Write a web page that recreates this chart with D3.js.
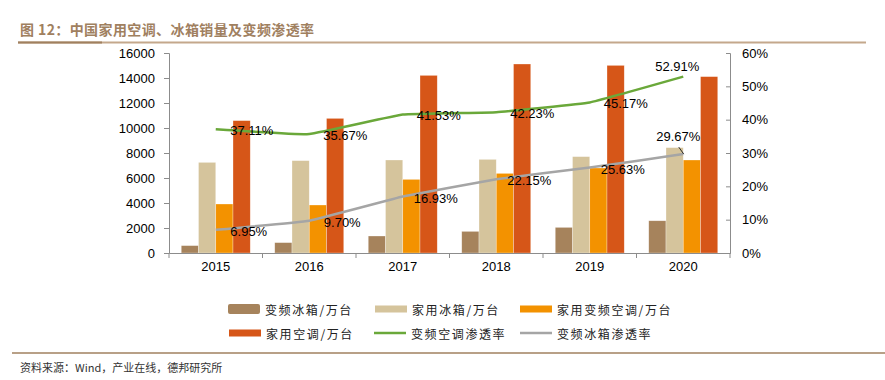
<!DOCTYPE html>
<html><head><meta charset="utf-8">
<script src="https://cdn.jsdelivr.net/npm/d3@7"></script>
<style>
html,body{margin:0;padding:0;background:#fff;}
svg{display:block;}
</style></head>
<body>
<svg id="chart" width="885" height="380"></svg>
<script>
const years = ["2015","2016","2017","2018","2019","2020"];
const invFridge = [590, 830, 1360, 1730, 2050, 2580];      // 变频冰箱/万台
const homeFridge = [7250, 7390, 7440, 7490, 7710, 8430];   // 家用冰箱/万台
const invAC = [3920, 3840, 5890, 6370, 6800, 7440];        // 家用变频空调/万台
const homeAC = [10590, 10770, 14210, 15120, 15010, 14110]; // 家用空调/万台
const acRate = [37.11, 35.67, 41.53, 42.23, 45.17, 52.91]; // 变频空调渗透率 %
const fridgeRate = [6.95, 9.70, 16.93, 22.15, 25.63, 29.67]; // 变频冰箱渗透率 %
const leftTicks = [0,2000,4000,6000,8000,10000,12000,14000,16000];
const rightTicks = [0,10,20,30,40,50,60];

const barSeries = [
  {name:"变频冰箱/万台", values:invFridge, color:"#A6835C"},
  {name:"家用冰箱/万台", values:homeFridge, color:"#D5C49C"},
  {name:"家用变频空调/万台", values:invAC, color:"#F39200"},
  {name:"家用空调/万台", values:homeAC, color:"#D65618"}
];
const lineSeries = [
  {name:"变频空调渗透率", values:acRate, color:"#6AA83A"},
  {name:"变频冰箱渗透率", values:fridgeRate, color:"#A5A5A5"}
];

const svg = d3.select("#chart");
const L = 169, R = 730, T = 53, B = 253;
const x0 = d3.scaleBand().domain(years).range([L, R]).padding(0);
const x1 = d3.scaleBand().domain(barSeries.map(d=>d.name)).range([0, x0.bandwidth()]).paddingInner(0).paddingOuter(0.71);
const yL = d3.scaleLinear().domain([0,16000]).range([B, T]);
const yR = d3.scaleLinear().domain([0,60]).range([B, T]);

// Title
svg.append("text").attr("x",20).attr("y",35)
  .attr("font-family","'Noto Sans CJK SC'").attr("font-size",14).attr("font-weight","bold")
  .attr("fill","#A0805F").attr("letter-spacing",0.4)
  .text("图 12：中国家用空调、冰箱销量及变频渗透率");
svg.append("line").attr("x1",18).attr("x2",866).attr("y1",42.5).attr("y2",42.5).attr("stroke","#C4A88C").attr("stroke-width",2);
svg.append("line").attr("x1",18).attr("x2",102).attr("y1",42.5).attr("y2",42.5).attr("stroke","#A0805F").attr("stroke-width",2);

// Bars
const g = svg.append("g");
years.forEach((yr,i)=>{
  barSeries.forEach(s=>{
    g.append("rect")
      .attr("x", x0(yr)+x1(s.name))
      .attr("y", yL(s.values[i]))
      .attr("width", x1.bandwidth())
      .attr("height", yL(0)-yL(s.values[i]))
      .attr("fill", s.color)
      .attr("stroke","rgba(255,255,255,0.5)").attr("stroke-width",0.6);
  });
});

// Axes
const axisColor = "#8C8C8C";
const aL = svg.append("g").attr("transform",`translate(${L},0)`)
  .call(d3.axisLeft(yL).tickValues(leftTicks).tickSize(5).tickPadding(9).tickFormat(d3.format("d")));
const aR = svg.append("g").attr("transform",`translate(${R},0)`)
  .call(d3.axisRight(yR).tickValues(rightTicks).tickSize(-4).tickPadding(12).tickFormat(d=>d+"%"));
const aX = svg.append("g").attr("transform",`translate(0,${B})`)
  .call(d3.axisBottom(x0).tickSize(0).tickPadding(9));
// boundary ticks on x-axis
const bounds = years.map(y=>x0(y)).concat([R]);
svg.append("g").selectAll("line").data(bounds).join("line")
  .attr("x1",d=>d).attr("x2",d=>d).attr("y1",B).attr("y2",B+5).attr("stroke",axisColor);
[aL,aR,aX].forEach(a=>{
  a.selectAll("path").attr("stroke",axisColor);
  a.selectAll("line").attr("stroke",axisColor);
  a.selectAll("text").attr("font-family","'Liberation Sans', Arial, sans-serif").attr("font-size",13).attr("fill","#000");
});
aR.selectAll("text").attr("x",12);

// Lines
const cx = d=>x0(d)+x0.bandwidth()/2;
const lineGen = d3.line().x((d,i)=>cx(years[i])).y(d=>yR(d)).curve(d3.curveCardinal.tension(0.75));
lineSeries.forEach(s=>{
  svg.append("path").datum(s.values).attr("d",lineGen)
    .attr("fill","none").attr("stroke",s.color).attr("stroke-width",2.5);
});

// Labels
function lbl(s, i, dx, dy){
  svg.append("text").attr("x",cx(years[i])+dx).attr("y",yR(s[i])+dy)
    .attr("text-anchor","middle").attr("dominant-baseline","central")
    .attr("font-family","'Liberation Sans', Arial, sans-serif").attr("font-size",13).attr("fill","#000")
    .text(s[i].toFixed(2)+"%");
}
acRate.forEach((v,i)=>{ if(i<5) lbl(acRate,i,36,1.2); else lbl(acRate,i,-6,-10); });
fridgeRate.forEach((v,i)=>{ if(i<5) lbl(fridgeRate,i,33,1.5); else lbl(fridgeRate,i,-5,-17.5); });
// leader line for last gray label
svg.append("line").attr("x1",cx(years[5])-4.5).attr("y1",yR(fridgeRate[5])-7)
  .attr("x2",cx(years[5])+0.5).attr("y2",yR(fridgeRate[5])).attr("stroke","#000").attr("stroke-width",0.8);

// Legend
const legend = [
  {name:barSeries[0].name, color:barSeries[0].color, type:"bar", h:10, x:228, y:309},
  {name:barSeries[1].name, color:barSeries[1].color, type:"bar", h:7, x:375, y:309},
  {name:barSeries[2].name, color:barSeries[2].color, type:"bar", h:7, x:520, y:309},
  {name:barSeries[3].name, color:barSeries[3].color, type:"bar", h:7, x:229, y:333},
  {name:lineSeries[0].name, color:lineSeries[0].color, type:"line", x:374, y:333},
  {name:lineSeries[1].name, color:lineSeries[1].color, type:"line", x:520, y:333}
];
legend.forEach(d=>{
  if(d.type==="bar"){
    svg.append("rect").attr("x",d.x).attr("y",d.y-d.h/2).attr("width",32).attr("height",d.h)
      .attr("rx",d.h>8?2:0).attr("fill",d.color);
  } else {
    svg.append("line").attr("x1",d.x).attr("x2",d.x+32).attr("y1",d.y).attr("y2",d.y)
      .attr("stroke",d.color).attr("stroke-width",2.5);
  }
  svg.append("text").attr("x",d.x+37).attr("y",d.y).attr("dominant-baseline","central")
    .attr("font-family","'Noto Sans CJK SC'").attr("font-size",12).attr("letter-spacing",1.6)
    .attr("fill","#222").text(d.name);
});

// Footer
svg.append("line").attr("x1",12).attr("x2",885).attr("y1",353).attr("y2",353).attr("stroke","#A0805F").attr("stroke-width",1.5);
svg.append("text").attr("x",20).attr("y",367).attr("dominant-baseline","central")
  .attr("font-family","'Noto Sans CJK SC'").attr("font-size",11).attr("fill","#333")
  .text("资料来源：Wind，产业在线，德邦研究所");
</script>
</body></html>
